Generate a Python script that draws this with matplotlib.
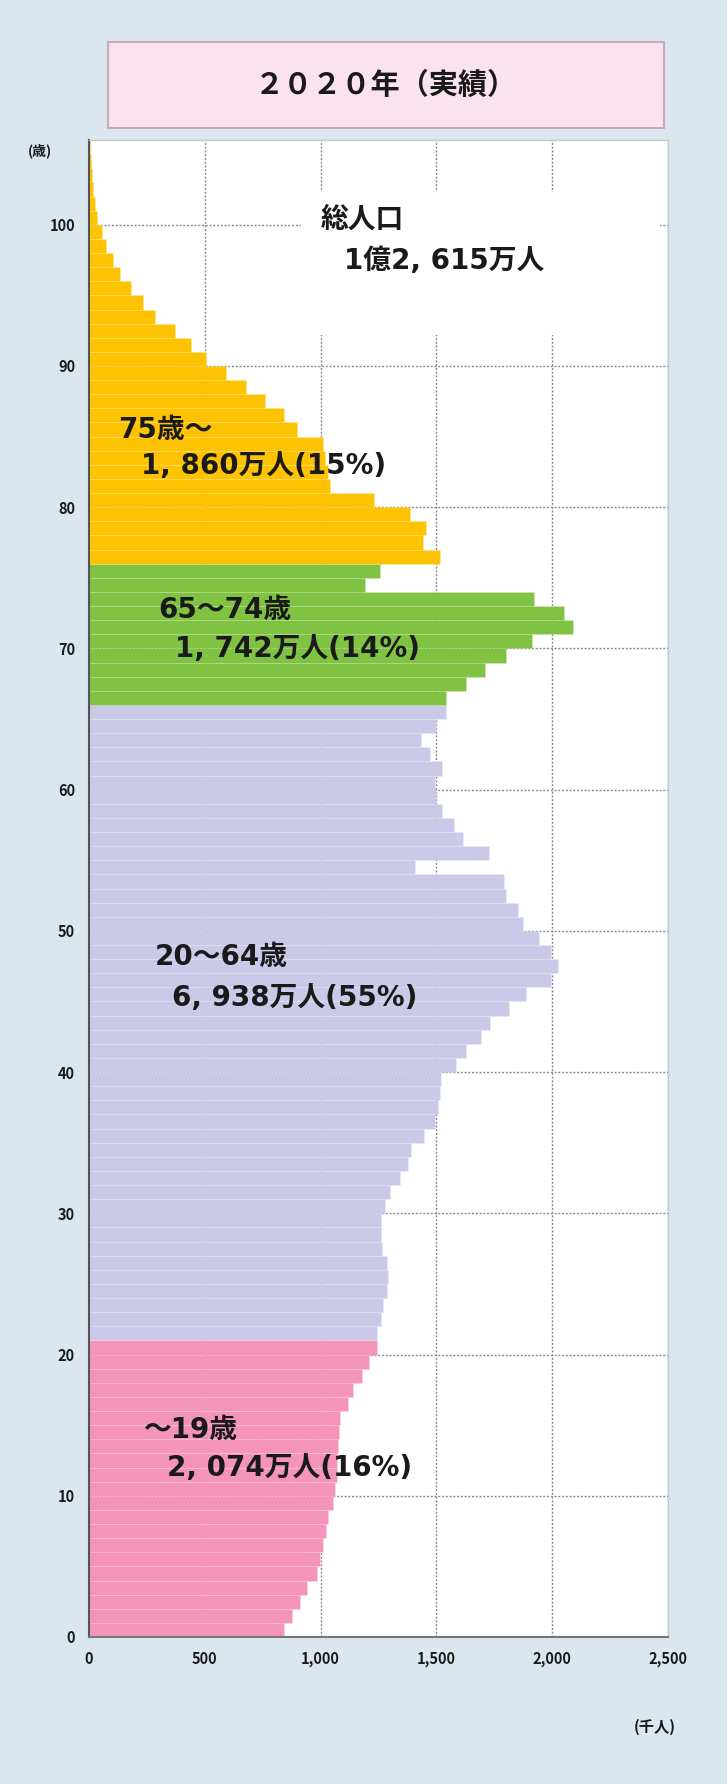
import matplotlib
matplotlib.use("Agg")
import matplotlib.pyplot as plt
from matplotlib.patches import Rectangle
import numpy as np

plt.rcParams['font.family'] = ['Noto Sans CJK JP', 'DejaVu Sans']

# 年齢別人口（千人）, 2020年, 0歳～105歳
pop_0_20 = [840, 876, 912, 941, 984, 998, 1009, 1024, 1034, 1052,
            1062, 1069, 1072, 1077, 1081, 1084, 1120, 1141, 1177, 1210,
            1242]
pop_21_65 = [1244, 1263, 1270, 1287, 1292, 1287, 1267, 1263, 1263, 1277,
             1299, 1342, 1378, 1392, 1445, 1492, 1507, 1514, 1521, 1586,
             1626, 1693, 1732, 1815, 1887, 1994, 2027, 1994, 1941, 1875,
             1851, 1801, 1794, 1406, 1726, 1614, 1574, 1525, 1500, 1492,
             1525, 1474, 1435, 1500, 1543]
pop_66_75 = [1543, 1629, 1708, 1801, 1915, 2088, 2052, 1923, 1191, 1256]
pop_76_up = [1514, 1442, 1454, 1388, 1232, 1041, 1030, 1020, 1010, 898,
             842, 758, 678, 593, 506, 441, 370, 284, 234, 183,
             133, 102, 73, 55, 36, 26, 19, 12, 9, 5]

groups = [pop_0_20, pop_21_65, pop_66_75, pop_76_up]
group_colors = ['#f494bb', '#cacae8', '#80c343', '#fec300']

group_labels = [('～19歳', '2, 074万人(16%)'),
                ('20～64歳', '6, 938万人(55%)'),
                ('65～74歳', '1, 742万人(14%)'),
                ('75歳～', '1, 860万人(15%)')]
total_label = ('総人口', '1億2, 615万人')

x_ticks = [0, 500, 1000, 1500, 2000, 2500]
x_ticklabels = ['0', '500', '1,000', '1,500', '2,000', '2,500']
y_ticks = [0, 10, 20, 30, 40, 50, 60, 70, 80, 90, 100]

bg = '#dbe7ef'

fig = plt.figure(figsize=(7.27, 17.84), dpi=100)
fig.patch.set_facecolor(bg)

# タイトルの箱
fig.patches.append(Rectangle((0.1486, 0.9283), 0.765, 0.0482, transform=fig.transFigure,
                             facecolor='#fbe2ef', edgecolor='#c8aab9', linewidth=1.5))
fig.text(0.531, 0.9523, '２０２０年（実績）', ha='center', va='center',
         fontsize=21, fontweight='bold', color='#1a1a1a')

ax = fig.add_axes([0.1224, 0.0824, 0.7964, 0.8391])
ax.set_facecolor('white')

start = 0
for vals, col in zip(groups, group_colors):
    ages = np.arange(start, start + len(vals))
    ax.barh(ages, vals, height=1.0, align='edge', color=col,
            edgecolor=(1, 1, 1, 0.15), linewidth=0.5, zorder=2)
    start += len(vals)

ax.set_xlim(0, 2500)
ax.set_ylim(0, 106)
ax.set_xticks(x_ticks)
ax.set_xticklabels(x_ticklabels)
ax.set_yticks(y_ticks)
ax.tick_params(length=0, labelsize=10.5, pad=10)
for lab in ax.get_xticklabels() + ax.get_yticklabels():
    lab.set_fontweight('bold')
    lab.set_color('#1a1a1a')

ax.grid(True, color='#8c8c8c', linestyle=(0, (1.5, 1.2)), linewidth=1.0, zorder=0)
ax.set_axisbelow(True)

for side in ['top', 'right']:
    ax.spines[side].set_color('#c8c8c8')
    ax.spines[side].set_linewidth(1.0)
ax.spines['left'].set_color('#555555')
ax.spines['left'].set_linewidth(1.5)
ax.spines['bottom'].set_color('#777777')
ax.spines['bottom'].set_linewidth(1.5)

# 総人口の白い背景
ax.add_patch(Rectangle((0.366, 0.870), 0.62, 0.095, transform=ax.transAxes,
                       facecolor='white', edgecolor='none', zorder=1))

# 数字は幅の広いフォント、漢字は Noto
txt = dict(fontsize=20, fontweight='bold', color='#1a1a1a', zorder=5, va='center',
           family=['DejaVu Sans', 'Noto Sans CJK JP'])
ax.text(0.400, 0.947, total_label[0], transform=ax.transAxes, **txt)
ax.text(0.440, 0.919, total_label[1], transform=ax.transAxes, **txt)

label_pos = [((0.095, 0.138), (0.134, 0.113)),
             ((0.113, 0.454), (0.143, 0.427)),
             ((0.119, 0.686), (0.148, 0.660)),
             ((0.050, 0.806), (0.089, 0.782))]
for (l1, l2), (p1, p2) in zip(group_labels, label_pos):
    ax.text(p1[0], p1[1], l1, transform=ax.transAxes, **txt)
    ax.text(p2[0], p2[1], l2, transform=ax.transAxes, **txt)

fig.text(0.055, 0.9155, '(歳)', ha='center', va='center', fontsize=10,
         fontweight='bold', color='#1a1a1a')
fig.text(0.9, 0.032, '(千人)', ha='center', va='center', fontsize=11,
         fontweight='bold', color='#1a1a1a')

fig.savefig('out.png', dpi=100, facecolor=bg)
